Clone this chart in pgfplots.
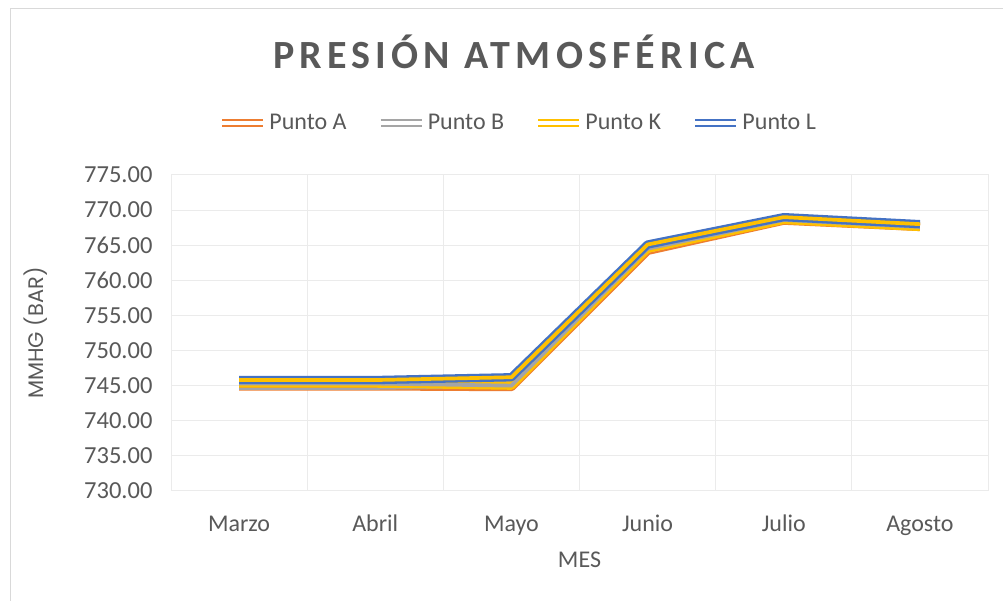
\documentclass[border=0pt]{standalone}
\usepackage{fontspec}
\setmainfont{Carlito}
\newfontfamily\titlefont{Carlito}[LetterSpace=13]
\newfontfamily\labelfont{Poppins}
\usepackage{pgfplots}
\pgfplotsset{compat=1.18}
\definecolor{txt}{HTML}{595959}
\definecolor{gridc}{HTML}{EBEBEB}
\definecolor{cA}{HTML}{ED7D31}
\definecolor{cB}{HTML}{A5A5A5}
\definecolor{cK}{HTML}{FFC000}
\definecolor{cL}{HTML}{4472C4}
\definecolor{framec}{HTML}{D9D9D9}
\begin{document}
\begin{tikzpicture}
\useasboundingbox (0,0) rectangle (1003bp,601bp);
\fill[white] (0,0) rectangle (1003bp,601bp);
\draw[framec, line width=1bp] (10.5bp,0) -- (10.5bp,592.5bp) -- (1003bp,592.5bp);
\node[anchor=base, text=txt, font=\titlefont\bfseries\fontsize{40bp}{46bp}\selectfont] at (514bp,532bp) {PRESIÓN ATMOSFÉRICA};
\begin{axis}[
  at={(171bp,110bp)}, anchor=south west,
  width=817bp, height=316bp, scale only axis,
  xmin=-0.5, xmax=5.5, ymin=730, ymax=775,
  xtick={0,...,5}, xticklabels={Marzo,Abril,Mayo,Junio,Julio,Agosto},
  minor xtick={-0.5,0.5,...,5.5},
  ytick={730,735,...,775},
  xminorgrids, ymajorgrids,
  grid style={draw=gridc, line width=1bp},
  minor grid style={draw=gridc, line width=1bp},
  major tick length=0, minor tick length=0,
  axis line style={draw=gridc, line width=1bp},
  tick style={draw=none},
  /pgf/number format/.cd, fixed, fixed zerofill, precision=2, assume math mode=true, 1000 sep={},
  /pgfplots/.cd,
  yticklabel style={font=\fontsize{24.5bp}{28bp}\selectfont, text=txt, xshift=-15bp},
  xticklabel style={font=\fontsize{24bp}{28bp}\selectfont, text=txt, anchor=base, yshift=-40bp},
  xlabel={MES},
  xlabel style={at={(axis description cs:0.5,-0.218)}, anchor=center, font=\fontsize{24bp}{28bp}\selectfont, text=txt},
  ylabel={MMHG (BAR)},
  ylabel style={at={(axis description cs:-0.166,0.5)}, anchor=center, font=\labelfont\fontsize{21bp}{25bp}\selectfont, text=txt},
  legend columns=4,
  legend cell align=left,
  legend style={at={(axis description cs:0.4247,1.165)}, anchor=center, draw=none, fill=none,
    font=\fontsize{24bp}{28bp}\selectfont, text=txt,
    /tikz/every even column/.append style={column sep=28bp}},
  legend image code/.code={\draw[#1] (0bp,0bp) -- (41bp,0bp);},
  legend image post style={double=white},
  every axis plot/.append style={line width=2.3bp, double distance=3.7bp, line join=round, mark=none},
]
\addplot[draw=cA, double=white] coordinates {(0,744.9) (1,744.9) (2,744.8) (3,764.2) (4,768.5) (5,767.6)};
\addlegendentry{Punto A}
\addplot[draw=cB, double=cA] coordinates {(0,745.0) (1,745.0) (2,745.3) (3,764.6) (4,768.7) (5,767.7)};
\addlegendentry{Punto B}
\addplot[draw=cK, double=cB] coordinates {(0,745.3) (1,745.3) (2,745.0) (3,764.5) (4,768.6) (5,767.6)};
\addlegendentry{Punto K}
\addplot[draw=cL, double=cK] coordinates {(0,745.8) (1,745.8) (2,746.2) (3,765.1) (4,769.0) (5,768.0)};
\addlegendentry{Punto L}
\end{axis}
\end{tikzpicture}
\end{document}
